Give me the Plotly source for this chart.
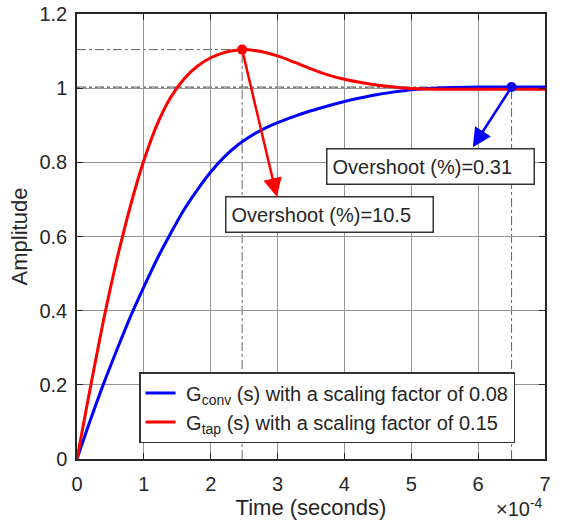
import plotly.graph_objects as go

# ---- data (time in units of 1e-4 s) ----
t_tap = [0, 0.1, 0.2, 0.3, 0.4, 0.5, 0.6, 0.7, 0.8, 0.9, 1.0, 1.2, 1.4, 1.6, 1.8, 2.0, 2.2, 2.35, 2.47,
         2.75, 3.0, 3.25, 3.5, 3.75, 4.0, 4.25, 4.5, 4.75, 5.0, 5.5, 6.0, 6.5, 7.0]
y_tap = [0, 0.097, 0.193, 0.286, 0.377, 0.461, 0.541, 0.614, 0.683, 0.747, 0.805, 0.903, 0.975, 1.025,
         1.059, 1.082, 1.096, 1.1015, 1.104, 1.099, 1.087, 1.07, 1.052, 1.036, 1.024, 1.015, 1.008, 1.003,
         0.999, 0.997, 0.997, 0.997, 0.997]

t_conv = [0, 0.2, 0.4, 0.6, 0.8, 1.0, 1.2, 1.4, 1.6, 1.8, 2.0, 2.2, 2.4, 2.6, 2.8, 3.0, 3.25, 3.5, 3.75,
          4.0, 4.25, 4.5, 4.75, 5.0, 5.5, 6.0, 6.5, 7.0]
y_conv = [0, 0.105, 0.204, 0.296, 0.384, 0.464, 0.54, 0.608, 0.672, 0.726, 0.774, 0.814, 0.846, 0.871,
          0.891, 0.907, 0.924, 0.939, 0.952, 0.964, 0.974, 0.983, 0.99, 0.996, 1.001, 1.003, 1.0031, 1.003]

x_ticks = [0, 1, 2, 3, 4, 5, 6, 7]
y_ticks = [0, 0.2, 0.4, 0.6, 0.8, 1.0, 1.2]
y_tick_text = ["0", "0.2", "0.4", "0.6", "0.8", "1", "1.2"]

label_conv = "&nbsp;G<sub>conv</sub> (s) with a scaling factor of 0.08"
label_tap = "&nbsp;G<sub>tap</sub> (s) with a scaling factor of 0.15"
text_tap = "Overshoot (%)=10.5"
text_conv = "Overshoot (%)=0.31"
steady_state = 1.0

# arrow tips and label-box centres (data units)
arrow_tip_tap = (2.99, 0.707)
arrow_tip_conv = (5.92, 0.841)
box_tap = (3.77, 0.659)
box_conv = (5.28, 0.789)

# peaks derived from the data
i_tap = max(range(len(y_tap)), key=lambda i: y_tap[i])
pk_tap = (t_tap[i_tap], y_tap[i_tap])
i_conv = max(range(len(y_conv)), key=lambda i: y_conv[i])
pk_conv = (t_conv[i_conv], y_conv[i_conv])

FONT = "Liberation Sans, Arial, sans-serif"
TXT = "#262626"
fig = go.Figure()

fig.add_trace(go.Scatter(x=t_conv, y=y_conv, mode="lines", name=label_conv,
                         line=dict(color="#0000ff", width=3, shape="spline", smoothing=0.8)))
fig.add_trace(go.Scatter(x=t_tap, y=y_tap, mode="lines", name=label_tap,
                         line=dict(color="#ff0000", width=3, shape="spline", smoothing=0.8)))
fig.add_trace(go.Scatter(x=[pk_tap[0]], y=[pk_tap[1]], mode="markers", showlegend=False,
                         marker=dict(color="#ff0000", size=10)))
fig.add_trace(go.Scatter(x=[pk_conv[0]], y=[pk_conv[1]], mode="markers", showlegend=False,
                         marker=dict(color="#0000ff", size=10)))

gray = "#606060"
shapes = [
    dict(type="line", x0=0, x1=7, y0=steady_state, y1=steady_state,
         line=dict(color="#333333", width=1.5, dash="dot"), layer="below"),
    dict(type="line", x0=0, x1=pk_tap[0], y0=pk_tap[1], y1=pk_tap[1],
         line=dict(color=gray, width=1, dash="dashdot"), layer="below"),
    dict(type="line", x0=pk_tap[0], x1=pk_tap[0], y0=0, y1=pk_tap[1],
         line=dict(color=gray, width=1, dash="dashdot"), layer="below"),
    dict(type="line", x0=0, x1=pk_conv[0], y0=pk_conv[1], y1=pk_conv[1],
         line=dict(color=gray, width=1, dash="dashdot"), layer="below"),
    dict(type="line", x0=pk_conv[0], x1=pk_conv[0], y0=0, y1=pk_conv[1],
         line=dict(color=gray, width=1, dash="dashdot"), layer="below"),
]

box_style = dict(xref="x", yref="y", showarrow=False, font=dict(family=FONT, size=20, color=TXT),
                 bgcolor="white", bordercolor="#333", borderwidth=1.5, borderpad=5,
                 width=196, height=24, align="left", valign="middle")
annotations = [
    dict(x=arrow_tip_tap[0], y=arrow_tip_tap[1], ax=pk_tap[0], ay=pk_tap[1], xref="x", yref="y",
         axref="x", ayref="y", text="", showarrow=True, arrowhead=2, arrowsize=1.5,
         arrowwidth=2.5, arrowcolor="#ff0000"),
    dict(x=arrow_tip_conv[0], y=arrow_tip_conv[1], ax=pk_conv[0], ay=pk_conv[1], xref="x", yref="y",
         axref="x", ayref="y", text="", showarrow=True, arrowhead=2, arrowsize=1.5,
         arrowwidth=2.5, arrowcolor="#0000ff"),
    dict(x=box_tap[0], y=box_tap[1], text=text_tap, **box_style),
    dict(x=box_conv[0], y=box_conv[1], text=text_conv, **box_style),
    dict(x=1.0, y=-0.108, xref="paper", yref="paper", xanchor="right", yanchor="middle",
         text="×10<sup>-4</sup>", showarrow=False, font=dict(family=FONT, size=20, color=TXT)),
]
fig.update_layout(shapes=shapes, annotations=annotations)

axis_common = dict(showline=True, linecolor="#262626", linewidth=1.5, mirror="ticks",
                   ticks="inside", ticklen=6, tickcolor="#262626", showgrid=True,
                   gridcolor="#949494", gridwidth=1, zeroline=False, automargin=False,
                   tickfont=dict(family=FONT, size=20, color=TXT))

fig.update_xaxes(range=[0, 7], tickvals=x_ticks, ticktext=[str(v) for v in x_ticks],
                 title=dict(text="Time (seconds)", font=dict(family=FONT, size=22, color=TXT), standoff=4),
                 ticklabelstandoff=6, **axis_common)
fig.update_yaxes(range=[0, 1.2], tickvals=y_ticks, ticktext=y_tick_text,
                 title=dict(text="Amplitude", font=dict(family=FONT, size=22, color=TXT), standoff=6),
                 ticklabelstandoff=4, **axis_common)

fig.update_layout(
    width=565, height=521,
    margin=dict(l=77, r=20, t=14, b=62, autoexpand=False),
    paper_bgcolor="white", plot_bgcolor="white",
    font=dict(family=FONT, color=TXT),
    legend=dict(x=(139 - 77) / 468, y=(459 - 372) / 445, xanchor="left", yanchor="top",
                bgcolor="white", bordercolor="#333", borderwidth=1.5,
                font=dict(family=FONT, size=20, color=TXT), tracegroupgap=0),
)

fig.write_html("out.html", config={"displayModeBar": False},
               post_script="document.body.style.margin='0px';")
